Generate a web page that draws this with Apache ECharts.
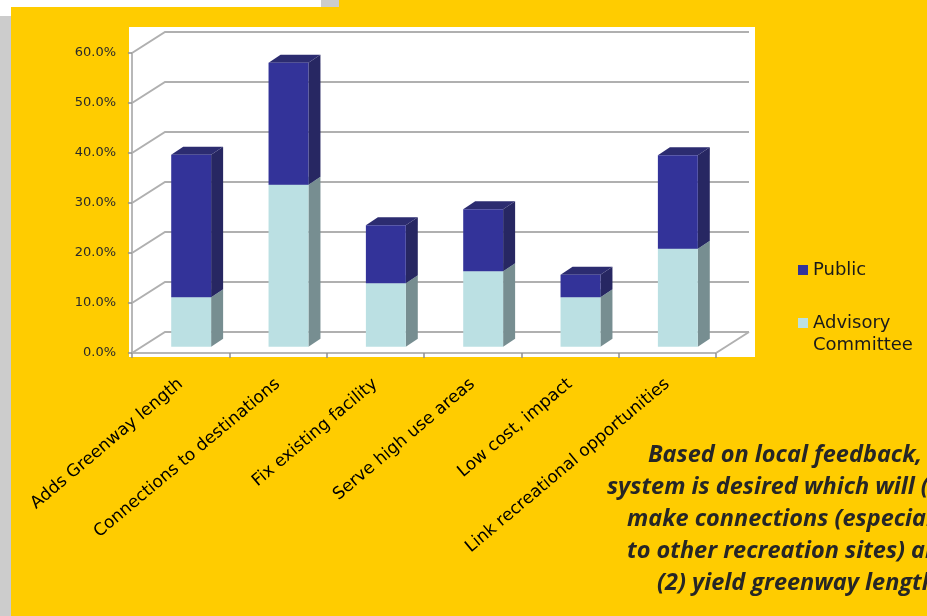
<!DOCTYPE html>
<html>
<head>
<meta charset="utf-8">
<script src="https://cdn.jsdelivr.net/npm/echarts@6/dist/echarts.min.js"></script>
<style>
html,body{margin:0;padding:0;background:#FFCC00;}
#chart{width:927px;height:616px;}
</style>
</head>
<body>
<div id="chart"></div>
<script>
// ---- data ----
const categories = ["Adds Greenway length", "Connections to destinations", "Fix existing facility", "Serve high use areas", "Low cost, impact", "Link recreational opportunities"];
const advisory = [9.9, 32.4, 12.7, 15.1, 9.9, 19.6];
const publicVals = [28.5, 24.4, 11.6, 12.4, 4.5, 18.7];
const yTicks = [0, 10, 20, 30, 40, 50, 60];
const seriesNames = ["Public", "Advisory Committee"];
const noteLines = ["Based on local feedback, a greenway", "system is desired which will (1)", "make connections (especially", "to other recreation sites) and", "(2) yield greenway length."];

// ---- style ----
const WALL_DX = 33, WALL_DY = -21;
const BAR_OX = 10.5, BAR_OY = -6.3, BAR_DX = 12, BAR_DY = -8;
const palette = {
  Public: {front: '#333399', side: '#272762', top: '#2c2c70'},
  Advisory: {front: '#BBE0E3', side: '#778E91', top: '#9FC2C5'}
};

function barRenderer(cols) {
  return function (params, api) {
    const i = api.value(0), lo = api.value(1), hi = api.value(2);
    const pLo = api.coord([i, lo]);
    const pHi = api.coord([i, hi]);
    const bw = api.size([1, 0])[0];
    const w = bw * 0.41;
    const x0 = pLo[0] + BAR_OX - w / 2, x1 = x0 + w;
    const yB = pLo[1] + BAR_OY, yT = pHi[1] + BAR_OY;
    return {
      type: 'group',
      children: [
        {type: 'polygon', shape: {points: [[x1, yB], [x1 + BAR_DX, yB + BAR_DY], [x1 + BAR_DX, yT + BAR_DY], [x1, yT]]}, style: {fill: cols.side}},
        {type: 'polygon', shape: {points: [[x0, yT], [x0 + BAR_DX, yT + BAR_DY], [x1 + BAR_DX, yT + BAR_DY], [x1, yT]]}, style: {fill: cols.top}},
        {type: 'rect', shape: {x: x0, y: yT, width: w, height: yB - yT}, style: {fill: cols.front}}
      ]
    };
  };
}

function wallRenderer(params, api) {
  const v = api.value(1);
  const cs = params.coordSys;
  const p = api.coord([0, v]);
  const xl = cs.x, xr = cs.x + cs.width;
  const children = [{
    type: 'polyline',
    shape: {points: [[xl, p[1]], [xl + WALL_DX, p[1] + WALL_DY], [xr + WALL_DX, p[1] + WALL_DY]]},
    style: {stroke: '#B0B0B0', lineWidth: 2, fill: null}
  }];
  if (v === yTicks[0]) {
    children.push({type: 'line', shape: {x1: xr, y1: p[1], x2: xr + WALL_DX, y2: p[1] + WALL_DY}, style: {stroke: '#B0B0B0', lineWidth: 2}});
  }
  return {type: 'group', children: children};
}

const chart = echarts.init(document.getElementById('chart'), null, {renderer: 'canvas'});
const legendText = {fontFamily: 'DejaVu Sans', fontSize: 18, color: '#1a1a1a', lineHeight: 22};
const noteY = [455, 487, 519, 551, 583];
const noteX = [648, 607, 627, 627, 657];

chart.setOption({
  animation: false,
  backgroundColor: '#FFCC00',
  graphic: [
    {type: 'rect', z: -10, shape: {x: 0, y: 0, width: 321, height: 7}, style: {fill: '#FFFFFF'}},
    {type: 'rect', z: -10, shape: {x: 0, y: 7, width: 11, height: 9}, style: {fill: '#FFFFFF'}},
    {type: 'rect', z: -10, shape: {x: 321, y: 0, width: 18, height: 7}, style: {fill: '#CCCCCC'}},
    {type: 'rect', z: -10, shape: {x: 0, y: 16, width: 11, height: 600}, style: {fill: '#CCCCCC'}},
    {type: 'rect', z: -10, shape: {x: 129, y: 27, width: 626, height: 330}, style: {fill: '#FFFFFF'}}
  ].concat(noteLines.map((t, k) => ({
    type: 'text', z: 5, x: noteX[k], y: noteY[k],
    style: {text: t, fill: '#262626', font: 'italic bold 23.5px "Open Sans"', align: 'left', verticalAlign: 'middle'}
  }))),
  legend: [
    {data: ['Public'], orient: 'vertical', left: 798, top: 259, padding: 0, itemWidth: 10, itemHeight: 10, itemGap: 0, icon: 'rect', textStyle: legendText},
    {data: ['Advisory Committee'], orient: 'vertical', left: 798, top: 290, padding: 0, itemWidth: 10, itemHeight: 10, itemGap: 0, icon: 'rect', textStyle: legendText,
      formatter: () => '\nAdvisory\nCommittee'}
  ],
  grid: {left: 132, right: 211, top: 53, bottom: 263, containLabel: false},
  xAxis: {
    type: 'category', data: categories, boundaryGap: true,
    axisLine: {lineStyle: {color: '#A0A0A0', width: 1.5}},
    axisTick: {show: true, interval: 0, length: 5, lineStyle: {color: '#909090', width: 1.5}},
    axisLabel: {interval: 0, rotate: 40, margin: 29, fontFamily: 'DejaVu Sans', fontSize: 17, color: '#000'},
    splitLine: {show: false}
  },
  yAxis: {
    type: 'value', min: 0, max: 60, interval: 10,
    axisLine: {show: true, lineStyle: {color: '#A0A0A0', width: 1.5}},
    axisTick: {show: true, length: 4, lineStyle: {color: '#909090', width: 1.5}},
    axisLabel: {margin: 16, fontFamily: 'DejaVu Sans', fontSize: 13, color: '#2a2a2a', formatter: v => v.toFixed(1) + '%'},
    splitLine: {show: false}
  },
  series: [
    {name: 'wall', type: 'custom', z: 1, silent: true, renderItem: wallRenderer, data: yTicks.map(v => [0, v]), encode: {x: 0, y: 1}},
    {name: seriesNames[1], type: 'custom', z: 3, renderItem: barRenderer(palette.Advisory), itemStyle: {color: palette.Advisory.front},
      data: categories.map((c, i) => [i, 0, advisory[i]]), encode: {x: 0, y: [1, 2]}},
    {name: seriesNames[0], type: 'custom', z: 4, renderItem: barRenderer(palette.Public), itemStyle: {color: palette.Public.front},
      data: categories.map((c, i) => [i, advisory[i], advisory[i] + publicVals[i]]), encode: {x: 0, y: [1, 2]}}
  ]
});
</script>
</body>
</html>
